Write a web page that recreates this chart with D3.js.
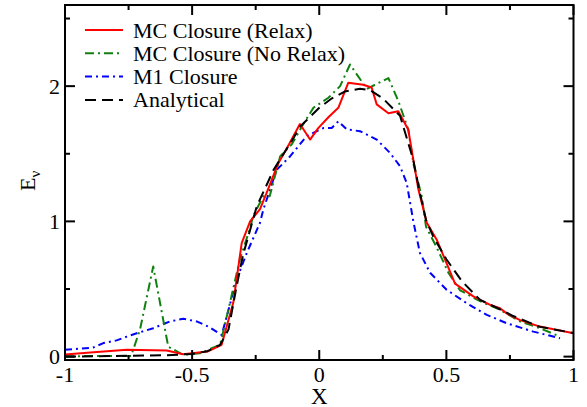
<!DOCTYPE html>
<html>
<head>
<meta charset="utf-8">
<script src="https://cdn.jsdelivr.net/npm/d3@7"></script>
<style>
  html, body { margin: 0; padding: 0; background: #fff; }
  text { font-family: "Liberation Serif", "Times New Roman", "DejaVu Serif", serif; }
</style>
</head>
<body>
<svg id="chart" width="587" height="407"></svg>
<script>
// Energy density E_nu versus X for the different closures
const relaxX = [-1, -0.9, -0.757, -0.6, -0.535, -0.44, -0.384, -0.338, -0.305, -0.272, -0.233, -0.207, -0.161, -0.122, -0.076, -0.036, -0.004, 0.036, 0.075, 0.114, 0.173, 0.206, 0.226, 0.272, 0.311, 0.35, 0.37, 0.39, 0.423, 0.462, 0.501, 0.534, 0.606, 0.672, 0.711, 0.737, 0.79, 0.868, 1.0];
const relaxY = [0.015, 0.03, 0.05, 0.045, 0.018, 0.037, 0.087, 0.40, 0.84, 1.0, 1.09, 1.21, 1.43, 1.56, 1.72, 1.605, 1.69, 1.77, 1.84, 2.025, 2.01, 1.99, 1.865, 1.80, 1.815, 1.68, 1.457, 1.235, 0.99, 0.865, 0.69, 0.54, 0.445, 0.383, 0.358, 0.32, 0.27, 0.222, 0.173];

const noRelaxX = [-1, -0.9, -0.74, -0.705, -0.653, -0.594, -0.535, -0.469, -0.39, -0.351, -0.312, -0.272, -0.26, -0.22, -0.195, -0.154, -0.108, -0.069, -0.023, 0.036, 0.082, 0.121, 0.187, 0.272, 0.311, 0.35, 0.37, 0.403, 0.42, 0.46, 0.508, 0.554, 0.632, 0.711, 0.79, 0.868, 0.947];
const noRelaxY = [0.0, 0.005, 0.005, 0.2, 0.667, 0.074, 0.013, 0.025, 0.087, 0.40, 0.72, 0.95, 1.04, 1.185, 1.185, 1.48, 1.57, 1.70, 1.84, 1.914, 2.0, 2.16, 1.98, 2.06, 1.89, 1.68, 1.43, 1.185, 0.96, 0.815, 0.62, 0.49, 0.41, 0.346, 0.26, 0.21, 0.148];

const m1X = [-1, -0.89, -0.849, -0.797, -0.757, -0.718, -0.653, -0.587, -0.535, -0.482, -0.436, -0.384, -0.364, -0.325, -0.285, -0.233, -0.22, -0.168, -0.115, -0.05, 0.016, 0.049, 0.075, 0.108, 0.16, 0.226, 0.278, 0.318, 0.344, 0.37, 0.396, 0.436, 0.501, 0.58, 0.659, 0.737, 0.842, 0.947];
const m1Y = [0.05, 0.067, 0.1, 0.12, 0.148, 0.173, 0.21, 0.26, 0.28, 0.26, 0.222, 0.16, 0.296, 0.57, 0.766, 0.99, 1.087, 1.38, 1.48, 1.63, 1.69, 1.69, 1.74, 1.68, 1.667, 1.605, 1.507, 1.407, 1.284, 1.0, 0.766, 0.62, 0.494, 0.395, 0.309, 0.247, 0.185, 0.136];

const analyticX = [-1, -0.8, -0.6, -0.5, -0.44, -0.39, -0.357, -0.325, -0.3, -0.246, -0.18, -0.1, -0.076, 0, 0.05, 0.1, 0.16, 0.2, 0.25, 0.318, 0.369, 0.396, 0.42, 0.448, 0.5, 0.56, 0.632, 0.7, 0.763, 0.868, 1.0];
const analyticY = [0.0, 0.005, 0.01, 0.02, 0.04, 0.087, 0.2, 0.52, 0.75, 1.11, 1.38, 1.62, 1.7, 1.84, 1.91, 1.96, 1.98, 1.97, 1.91, 1.78, 1.46, 1.21, 1.01, 0.89, 0.72, 0.56, 0.42, 0.36, 0.30, 0.22, 0.175];

const seriesNames = ["MC Closure (Relax)", "MC Closure (No Relax)", "M1 Closure", "Analytical"];
const xTicks = [-1, -0.5, 0, 0.5, 1];
const xTickLabels = ["-1", "-0.5", "0", "0.5", "1"];
const yTicks = [0, 1, 2];
const yTickLabels = ["0", "1", "2"];

const FONT = "Liberation Serif, Times New Roman, DejaVu Serif, serif";
const svg = d3.select("#chart").attr("font-family", FONT);
const margin = { left: 65, right: 13.5, top: 5, bottom: 47 };
const W = 587, H = 407;

const x = d3.scaleLinear().domain([-1, 1]).range([margin.left, W - margin.right]);
const y = d3.scaleLinear().domain([-0.025, 2.6]).range([H - margin.bottom, margin.top]);

const styles = [
  { color: "#ff0000", dash: null },
  { color: "#108010", dash: "9,4,2,4" },
  { color: "#0000ff", dash: "7,4,2,4" },
  { color: "#000000", dash: "11,6" }
];

const data = [
  d3.zip(relaxX, relaxY),
  d3.zip(noRelaxX, noRelaxY),
  d3.zip(m1X, m1Y),
  d3.zip(analyticX, analyticY)
];

const line = d3.line().x(d => x(d[0])).y(d => y(d[1]));

const plot = svg.append("g");
plot.append("defs").append("clipPath").attr("id", "clip")
  .append("rect")
  .attr("x", margin.left).attr("y", margin.top)
  .attr("width", W - margin.left - margin.right)
  .attr("height", H - margin.top - margin.bottom);

const curves = plot.append("g").attr("clip-path", "url(#clip)");
// analytical drawn last so it sits on top
[2, 1, 0, 3].forEach(i => {
  curves.append("path")
    .datum(data[i])
    .attr("fill", "none")
    .attr("stroke", styles[i].color)
    .attr("stroke-width", 2)
    .attr("stroke-linejoin", "round")
    .attr("stroke-dasharray", styles[i].dash)
    .attr("d", line);
});

// frame with inward ticks on all four sides
const xMinor = d3.range(-0.75, 1, 0.5);
const yMinor = [0.5, 1.5, 2.5];
const majorLen = 10, minorLen = 5;

function axisSet(scale, vals, len, orient) {
  const g = svg.append("g");
  vals.forEach(v => {
    const p = scale(v);
    let x1, y1, x2, y2;
    if (orient === "bottom") { x1 = x2 = p; y1 = H - margin.bottom; y2 = y1 - len; }
    if (orient === "top") { x1 = x2 = p; y1 = margin.top; y2 = y1 + len; }
    if (orient === "left") { y1 = y2 = p; x1 = margin.left; x2 = x1 + len; }
    if (orient === "right") { y1 = y2 = p; x1 = W - margin.right; x2 = x1 - len; }
    g.append("line").attr("x1", x1).attr("y1", y1).attr("x2", x2).attr("y2", y2)
      .attr("stroke", "#000").attr("stroke-width", 2);
  });
}
axisSet(x, xTicks, majorLen, "bottom");
axisSet(x, xMinor, minorLen, "bottom");
axisSet(x, xTicks, majorLen, "top");
axisSet(x, xMinor, minorLen, "top");
axisSet(y, yTicks, majorLen, "left");
axisSet(y, yMinor, minorLen, "left");
axisSet(y, yTicks, majorLen, "right");
axisSet(y, yMinor, minorLen, "right");

svg.append("rect")
  .attr("x", margin.left).attr("y", margin.top)
  .attr("width", W - margin.left - margin.right)
  .attr("height", H - margin.top - margin.bottom)
  .attr("fill", "none").attr("stroke", "#000").attr("stroke-width", 2);

// tick labels
svg.append("g").selectAll("text").data(xTicks).join("text")
  .attr("x", d => x(d))
  .attr("y", H - margin.bottom + 22)
  .attr("text-anchor", "middle")
  .attr("font-size", 22)
  .text((d, i) => xTickLabels[i]);

svg.append("g").selectAll("text").data(yTicks).join("text")
  .attr("x", margin.left - 5)
  .attr("y", d => y(d) + 7.5)
  .attr("text-anchor", "end")
  .attr("font-size", 22)
  .text((d, i) => yTickLabels[i]);

// axis titles
svg.append("text")
  .attr("x", x(0))
  .attr("y", H - 3)
  .attr("text-anchor", "middle")
  .attr("font-size", 23)
  .text("X");

const yt = svg.append("text")
  .attr("transform", `translate(35,${y(1.3)}) rotate(-90)`)
  .attr("text-anchor", "middle")
  .attr("font-size", 22);
yt.append("tspan").text("E");
yt.append("tspan").attr("font-size", 15).attr("dy", 5).text("ν");

// legend
const legend = svg.append("g");
seriesNames.forEach((name, i) => {
  const ly = 30 + i * 23.3;
  legend.append("line")
    .attr("x1", 85).attr("x2", 123)
    .attr("y1", ly).attr("y2", ly)
    .attr("stroke", styles[i].color)
    .attr("stroke-width", 2)
    .attr("stroke-dasharray", styles[i].dash);
  legend.append("text")
    .attr("x", 133).attr("y", ly + 7.5)
    .attr("font-size", 22)
    .text(name);
});
</script>
</body>
</html>
